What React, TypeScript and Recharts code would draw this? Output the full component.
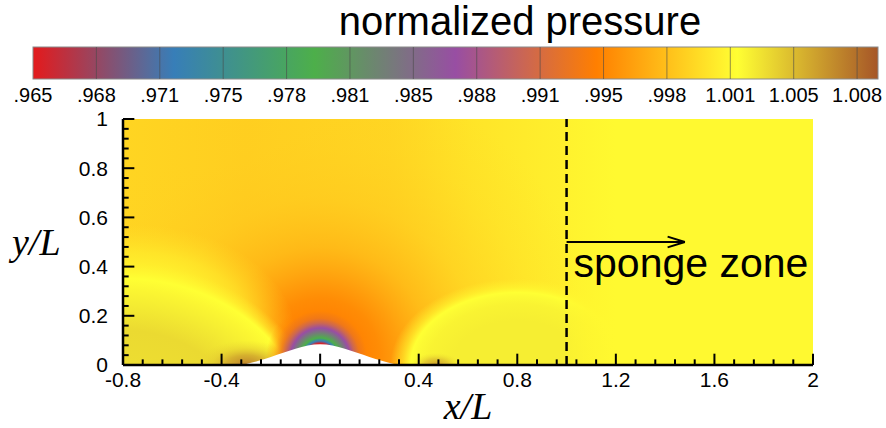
import React from 'react';
import { ComposedChart, XAxis, YAxis, Area, ReferenceArea, ReferenceLine, ReferenceDot, Label } from 'recharts';

// ---------- colour bar ----------
const cbLabels = ['.965', '.968', '.971', '.975', '.978', '.981', '.985', '.988', '.991', '.995', '.998', '1.001', '1.005', '1.008'];
const cbBarEnd = 13.33; // the bar runs a third of a step past the last label
const cmapColors = ['#e41a1c', '#377eb8', '#4daf4a', '#984ea3', '#ff7f00', '#ffff33', '#a65628'];
const P_MIN = 0.965;
const P_MAX = 1.0091;

// ---------- axes ----------
const xMajorTicks = [-0.8, -0.4, 0, 0.4, 0.8, 1.2, 1.6, 2];
const xTickLabels = ['-0.8', '-0.4', '0', '0.4', '0.8', '1.2', '1.6', '2'];
const yMajorTicks = [0, 0.2, 0.4, 0.6, 0.8, 1];
const yTickLabels = ['0', '0.2', '0.4', '0.6', '0.8', '1'];

// ---------- bump (wall geometry) ----------
const bumpX = [-0.32, -0.3, -0.25, -0.2, -0.15, -0.1, -0.05, 0, 0.05, 0.1, 0.15, 0.2, 0.25, 0.3, 0.32];
const bumpY = [0, 0.004, 0.017, 0.033, 0.05, 0.066, 0.079, 0.084, 0.079, 0.066, 0.05, 0.033, 0.017, 0.004, 0];

// ---------- pressure field ----------
// background pressure along x
const bgX = [-0.8, -0.3, 0.3, 0.6, 0.9, 1.2, 2.0];
const bgP = [0.99933, 0.99896, 0.9994, 1.00021, 1.00072, 1.00116, 1.00138];

// low-pressure region above the bump (radius in x/L units)
const blobCenter = [0, 0.03];
const blobR = [0, 0.05, 0.058, 0.068, 0.08, 0.1, 0.12, 0.14, 0.16, 0.19, 0.24, 0.32, 0.45, 0.65, 0.9, 1.15];
const blobP = [0.965, 0.96515, 0.96574, 0.97235, 0.9797, 0.98338, 0.98705, 0.99073, 0.9933, 0.99477, 0.99514, 0.99624, 0.99734, 0.99844, 0.99903, 0.99933];
const blobA = [1, 1, 1, 1, 1, 1, 1, 1, 1, 1, 1, 1, 0.75, 0.45, 0.18, 0];

// inner rings of the same region, drawn over the wall-pressure regions
const coreR = [0, 0.05, 0.058, 0.068, 0.08, 0.1, 0.12, 0.14, 0.16, 0.19, 0.22];
const coreP = [0.965, 0.96515, 0.96574, 0.97235, 0.9797, 0.98338, 0.98705, 0.99073, 0.9933, 0.99477, 0.995];
const coreA = [1, 1, 1, 1, 1, 1, 1, 1, 0.85, 0.35, 0];

// bright band far upstream
const farLCenter = [-0.75, 0.12];
const farLRadius = [0.65, 0.45];
const farLOff = [0, 0.5, 0.75, 1];
const farLP = [1.00153, 1.00146, 1.00102, 1.00028];
const farLA = [1, 1, 0.6, 0];

// high-pressure region upstream of the bump (offsets = fraction of ellipse)
const leftCenter = [-0.8, -0.3];
const leftRadius = [1.14, 0.98];
const leftOff = [0, 0.31, 0.45, 0.55, 0.62, 0.665, 0.69, 0.73];
const leftP = [1.00337, 1.00322, 1.00337, 1.00263, 1.00212, 1.00175, 1.00146, 1.00102];
const leftA = [1, 1, 1, 1, 1, 1, 0.5, 0];

// high-pressure region downstream of the bump
const rightCenter = [0.8, 0];
const rightRadius = [0.66, 0.45];
const rightOff = [0, 0.4, 0.55, 0.62, 0.655, 0.7, 0.78];
const rightP = [1.00249, 1.00249, 1.00227, 1.00198, 1.00175, 1.00138, 1.00102];
const rightA = [1, 1, 1, 1, 1, 0.6, 0];

// darker spots at the bump feet
const brownLCenter = [-0.3, 0];
const brownLRadius = [0.2, 0.1];
const brownLOff = [0, 0.4, 0.7, 1];
const brownLP = [1.00726, 1.00543, 1.00396, 1.00337];
const brownLA = [1, 0.9, 0.5, 0];

const brownRCenter = [0.47, 0];
const brownRRadius = [0.1, 0.05];
const brownROff = [0, 0.5, 1];
const brownRP = [1.00616, 1.00469, 1.003];
const brownRA = [1, 0.7, 0];

// sponge zone (damped towards reference)
const spongeX = [1.0, 1.08, 1.2, 2.0];
const spongeP = [1.00124, 1.00124, 1.00138, 1.00138];
const spongeA = [0.4, 0.8, 1, 1];

// annotations
const spongeStartX = 1.0;
const arrowY = 0.5;
const arrowEndX = 1.48;

const FONT = '"Liberation Sans", Arial, Helvetica, sans-serif';
const SERIF = '"Liberation Serif", "Times New Roman", Times, serif';
const CLIP = 'url(#plotAreaClip)';

function hexToRgb(h: string) {
  const n = parseInt(h.slice(1), 16);
  return [(n >> 16) & 255, (n >> 8) & 255, n & 255];
}

function pressureColor(p: number) {
  const t = Math.min(1, Math.max(0, (p - P_MIN) / (P_MAX - P_MIN))) * (cmapColors.length - 1);
  const i = Math.min(cmapColors.length - 2, Math.floor(t));
  const f = t - i;
  const a = hexToRgb(cmapColors[i]);
  const b = hexToRgb(cmapColors[i + 1]);
  const c = a.map((v, k) => Math.round(v + (b[k] - v) * f));
  return `rgb(${c[0]},${c[1]},${c[2]})`;
}

function radialShape(id: string, offsets: number[], pressures: number[], alphas: number[]) {
  return (props: any) => {
    const { x, y, width, height } = props;
    const w = Math.abs(width);
    const h = Math.abs(height);
    return (
      <g clipPath={CLIP}>
        <defs>
          <radialGradient id={id} cx="50%" cy="50%" r="50%">
            {offsets.map((o, i) => (
              <stop key={i} offset={o} stopColor={pressureColor(pressures[i])} stopOpacity={alphas[i]} />
            ))}
          </radialGradient>
        </defs>
        <ellipse cx={x + w / 2} cy={y + h / 2} rx={w / 2} ry={h / 2} fill={`url(#${id})`} />
      </g>
    );
  };
}

function linearShape(id: string, offsets: number[], pressures: number[], alphas: number[], definesClip = false) {
  return (props: any) => {
    const { x, y, width, height } = props;
    const w = Math.abs(width);
    const h = Math.abs(height);
    return (
      <g>
        <defs>
          {definesClip && (
            <clipPath id="plotAreaClip">
              <rect x={x} y={y} width={w} height={h} />
            </clipPath>
          )}
          <linearGradient id={id} x1="0" y1="0" x2="1" y2="0">
            {offsets.map((o, i) => (
              <stop key={i} offset={o} stopColor={pressureColor(pressures[i])} stopOpacity={alphas[i]} />
            ))}
          </linearGradient>
        </defs>
        <rect x={x} y={y} width={w} height={h} fill={`url(#${id})`} />
      </g>
    );
  };
}

function minorTicks(majors: number[], n: number) {
  const out: number[] = [];
  for (let i = 0; i < majors.length - 1; i++) {
    for (let k = 1; k < n; k++) out.push(majors[i] + ((majors[i + 1] - majors[i]) * k) / n);
  }
  return out;
}

const bumpData = bumpX.map((x, i) => ({ x, y: bumpY[i] }));
const X0 = xMajorTicks[0];
const X1 = xMajorTicks[xMajorTicks.length - 1];
const xSpan = X1 - X0;

function ellipseArea(key: string, center: number[], radius: number[], offs: number[], ps: number[], as: number[]) {
  return (
    <ReferenceArea
      key={key}
      x1={center[0] - radius[0]}
      x2={center[0] + radius[0]}
      y1={center[1] - radius[1]}
      y2={center[1] + radius[1]}
      ifOverflow="visible"
      shape={radialShape(key, offs, ps, as)}
    />
  );
}

function ColorBar() {
  const cbData = cbLabels.map((_, i) => ({ i, v: 0.5 }));
  const cbTicks = cbLabels.map((_, i) => i);
  const n = cmapColors.length - 1;
  const cbShape = (props: any) => {
    const { x, y, width, height } = props;
    return (
      <g>
        <defs>
          <linearGradient id="cbgrad" x1="0" y1="0" x2="1" y2="0">
            {cmapColors.map((c, i) => (
              <stop key={i} offset={i / n} stopColor={c} />
            ))}
          </linearGradient>
        </defs>
        <rect x={x} y={y} width={Math.abs(width)} height={Math.abs(height)} fill="url(#cbgrad)" stroke="#8a8a8a" strokeWidth={1} />
      </g>
    );
  };
  return (
    <ComposedChart width={886} height={110} data={cbData} margin={{ top: 47, right: 8, left: 33, bottom: 0 }}>
      <XAxis
        type="number"
        dataKey="i"
        domain={[0, cbBarEnd]}
        allowDataOverflow
        ticks={cbTicks}
        interval={0}
        tickFormatter={(v: number) => cbLabels[v]}
        axisLine={false}
        tickLine={false}
        tickSize={0}
        tickMargin={9}
        height={31}
        tick={{ fontSize: 20, fill: '#000', fontFamily: FONT }}
      />
      <YAxis type="number" dataKey="v" domain={[0, 1]} allowDataOverflow width={0} tick={false} axisLine={false} tickLine={false} />
      <ReferenceArea x1={0} x2={cbBarEnd} y1={0} y2={1} ifOverflow="visible" shape={cbShape} />
      {cbTicks.slice(1).map((t) => (
        <ReferenceLine key={t} x={t} stroke="#4a4a4a" strokeOpacity={0.6} strokeWidth={1} />
      ))}
      <text x={520} y={35} textAnchor="middle" fontSize={40} fontFamily={FONT} fill="#000">
        normalized pressure
      </text>
    </ComposedChart>
  );
}

function MainPlot() {
  const xMinor = minorTicks(xMajorTicks, 5);
  const yMinor = minorTicks(yMajorTicks, 5);
  const majLen = 0.046;
  const minLen = 0.023;
  const xTickSegs = [
    ...xMajorTicks.map((t) => ({ t, len: majLen })),
    ...xMinor.map((t) => ({ t, len: minLen })),
  ];
  const yTickSegs = [
    ...yMajorTicks.map((t) => ({ t, len: majLen })),
    ...yMinor.map((t) => ({ t, len: minLen })),
  ];
  const bgOff = bgX.map((x) => (x - X0) / xSpan);
  const spOff = spongeX.map((x) => (x - spongeX[0]) / (spongeX[spongeX.length - 1] - spongeX[0]));
  const blobMax = blobR[blobR.length - 1];
  const coreMax = coreR[coreR.length - 1];
  return (
    <ComposedChart width={886} height={428} data={bumpData} margin={{ top: 119, right: 73, left: 0, bottom: 0 }}>
      <ReferenceArea
        x1={X0}
        x2={X1}
        y1={0}
        y2={1}
        ifOverflow="visible"
        shape={linearShape('bggrad', bgOff, bgP, bgX.map(() => 1), true)}
      />
      {ellipseArea('blob', blobCenter, [blobMax, blobMax], blobR.map((r) => r / blobMax), blobP, blobA)}
      {ellipseArea('farLeft', farLCenter, farLRadius, farLOff, farLP, farLA)}
      {ellipseArea('leftHigh', leftCenter, leftRadius, leftOff, leftP, leftA)}
      {ellipseArea('rightHigh', rightCenter, rightRadius, rightOff, rightP, rightA)}
      {ellipseArea('brownL', brownLCenter, brownLRadius, brownLOff, brownLP, brownLA)}
      {ellipseArea('brownR', brownRCenter, brownRRadius, brownROff, brownRP, brownRA)}
      {ellipseArea('core', blobCenter, [coreMax, coreMax], coreR.map((r) => r / coreMax), coreP, coreA)}
      <ReferenceArea
        x1={spongeX[0]}
        x2={spongeX[spongeX.length - 1]}
        y1={0}
        y2={1}
        ifOverflow="visible"
        shape={linearShape('spgrad', spOff, spongeP, spongeA)}
      />
      <Area
        type="monotone"
        dataKey="y"
        stroke="none"
        fill="#ffffff"
        fillOpacity={1}
        baseValue={0}
        dot={false}
        activeDot={false}
        isAnimationActive={false}
      />
      <ReferenceLine x={spongeStartX} stroke="#000" strokeWidth={2.5} strokeDasharray="9 5" />
      <ReferenceLine segment={[{ x: spongeStartX, y: arrowY }, { x: arrowEndX, y: arrowY }]} stroke="#000" strokeWidth={2} />
      <ReferenceLine segment={[{ x: arrowEndX, y: arrowY }, { x: arrowEndX - 0.07, y: arrowY + 0.022 }]} stroke="#000" strokeWidth={2} />
      <ReferenceLine segment={[{ x: arrowEndX, y: arrowY }, { x: arrowEndX - 0.07, y: arrowY - 0.022 }]} stroke="#000" strokeWidth={2} />
      <ReferenceDot
        x={spongeStartX}
        y={0.418}
        r={1}
        fill="none"
        stroke="none"
        label={{ value: 'sponge zone', position: 'right', offset: 6, fontSize: 41, fill: '#000', fontFamily: FONT }}
      />
      {xTickSegs.map((s, i) => (
        <ReferenceLine key={'xt' + i} segment={[{ x: s.t, y: 0 }, { x: s.t, y: s.len }]} stroke="#000" strokeWidth={2} ifOverflow="visible" />
      ))}
      {yTickSegs.map((s, i) => (
        <ReferenceLine key={'yt' + i} segment={[{ x: X0, y: s.t }, { x: X0 + s.len, y: s.t }]} stroke="#000" strokeWidth={2} ifOverflow="visible" />
      ))}
      <XAxis
        type="number"
        dataKey="x"
        domain={[X0, X1]}
        allowDataOverflow
        ticks={xMajorTicks}
        interval={0}
        tickFormatter={(v: number) => xTickLabels[xMajorTicks.indexOf(v)] ?? String(v)}
        axisLine={{ stroke: '#000', strokeWidth: 2.5 }}
        tickLine={false}
        tickSize={0}
        tickMargin={7}
        height={63}
        tick={{ fontSize: 21, fill: '#000', fontFamily: FONT }}
      >
        <Label value="x/L" position="insideBottom" offset={9} fontSize={38} fontStyle="italic" fontFamily={SERIF} fill="#000" />
      </XAxis>
      <YAxis
        type="number"
        domain={[0, 1]}
        allowDataOverflow
        ticks={yMajorTicks}
        interval={0}
        tickFormatter={(v: number) => yTickLabels[yMajorTicks.indexOf(v)] ?? String(v)}
        axisLine={{ stroke: '#000', strokeWidth: 2.5 }}
        tickLine={false}
        tickSize={0}
        tickMargin={15}
        width={123}
        tick={{ fontSize: 21, fill: '#000', fontFamily: FONT }}
      >
        <Label value="y/L" position="insideLeft" offset={12} fontSize={38} fontStyle="italic" fontFamily={SERIF} fill="#000" />
      </YAxis>
    </ComposedChart>
  );
}

export default function App() {
  return (
    <div style={{ position: 'absolute', left: 0, top: 0, width: 886, height: 428, background: '#fff' }}>
      <div style={{ position: 'absolute', left: 0, top: 0 }}>
        <MainPlot />
      </div>
      <div style={{ position: 'absolute', left: 0, top: 0 }}>
        <ColorBar />
      </div>
    </div>
  );
}
